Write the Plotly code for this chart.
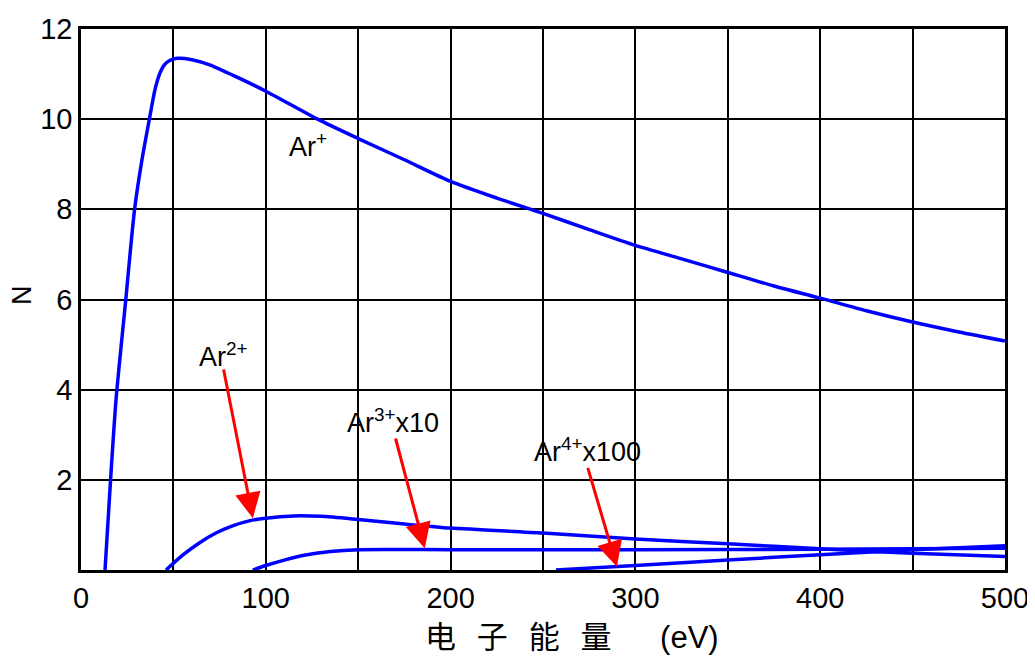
import plotly.graph_objects as go

# ---- data ----
ar1_x = [13, 16, 19, 24, 29, 33, 37, 40, 42.5, 45, 48, 52, 60, 70, 85, 100, 128, 150, 175, 200,
         225, 250, 275, 300, 325, 350, 375, 400, 425, 450, 475, 500]
ar1_y = [0, 2, 3.8, 5.9, 8, 9.1, 10, 10.65, 11.0, 11.2, 11.3, 11.35, 11.32, 11.2, 10.92, 10.62, 10.0, 9.57,
         9.1, 8.62, 8.25, 7.91, 7.55, 7.2, 6.9, 6.6, 6.3, 6.03, 5.75, 5.5, 5.28, 5.08]

ar2_x = [46, 55, 64, 73, 82, 91, 100, 115, 130, 150, 175, 200, 250, 300, 350, 400, 450, 500]
ar2_y = [0, 0.33, 0.6, 0.82, 0.98, 1.09, 1.15, 1.2, 1.19, 1.12, 1.02, 0.93, 0.82, 0.69, 0.58, 0.47, 0.37, 0.3]

ar3_x = [93, 100, 110, 120, 135, 150, 200, 300, 400, 500]
ar3_y = [0, 0.1, 0.22, 0.32, 0.41, 0.45, 0.45, 0.45, 0.46, 0.48]

ar4_x = [257, 300, 350, 400, 450, 500]
ar4_y = [0, 0.1, 0.22, 0.34, 0.45, 0.54]

x_tickvals = [0, 50, 100, 150, 200, 250, 300, 350, 400, 450, 500]
x_ticktext = ["0", "", "100", "", "200", "", "300", "", "400", "", "500"]
y_tickvals = [2, 4, 6, 8, 10, 12]
y_ticktext = ["2", "4", "6", "8", "10", "12"]

# label annotations: (text, text_x, text_y, tail_x, tail_y, head_x, head_y)
labels = [
    ("Ar<sup>2+</sup>", 77, 4.77, 77, 4.48, 93, 1.15),
    ("Ar<sup>3+</sup>x10", 169, 3.3, 170, 2.95, 186, 0.48),
    ("Ar<sup>4+</sup>x100", 274, 2.66, 274, 2.3, 290, 0.07),
]
ar1_label = ("Ar<sup>+</sup>", 123, 9.42)

FONT = "Liberation Sans, Arial, sans-serif"
BLUE = "#0000FF"
RED = "#FF0000"
NB = "\u00a0"

fig = go.Figure()
for xs, ys in [(ar1_x, ar1_y), (ar2_x, ar2_y), (ar3_x, ar3_y), (ar4_x, ar4_y)]:
    fig.add_trace(go.Scatter(x=xs, y=ys, mode="lines",
                             line=dict(color=BLUE, width=3.5, shape="spline", smoothing=0.7),
                             showlegend=False, hoverinfo="skip"))

annotations = []
for text, tx, ty, ax, ay, hx, hy in labels:
    annotations.append(dict(x=hx, y=hy, ax=ax, ay=ay, xref="x", yref="y", axref="x", ayref="y",
                            text="", showarrow=True, arrowhead=2, arrowsize=1.7, arrowwidth=3,
                            arrowcolor=RED, standoff=0, startstandoff=0))
    annotations.append(dict(x=tx, y=ty, xref="x", yref="y", text=text, showarrow=False,
                            font=dict(family=FONT, size=27, color="black")))
annotations.append(dict(x=ar1_label[1], y=ar1_label[2], xref="x", yref="y", text=ar1_label[0],
                        showarrow=False, font=dict(family=FONT, size=27, color="black")))
# axis titles
title_cn = (NB * 3).join(["电", "子", "能", "量"])
annotations.append(dict(x=0.531, y=-0.12, xref="paper", yref="paper",
                        text=title_cn + NB * 7 + "<span style='font-family:Liberation Sans'>(eV)</span>",
                        showarrow=False, yanchor="middle", xanchor="center",
                        font=dict(family="Noto Sans CJK SC", size=31, color="black")))
annotations.append(dict(x=-0.064, y=0.508, xref="paper", yref="paper", text="N", textangle=-90,
                        xanchor="center", yanchor="middle",
                        showarrow=False, font=dict(family=FONT, size=27, color="black")))

fig.update_layout(
    width=1027, height=649,
    margin=dict(l=73, r=30, t=21, b=87),
    paper_bgcolor="white", plot_bgcolor="white",
    annotations=annotations,
    xaxis=dict(range=[0, 500], tickvals=x_tickvals, ticktext=x_ticktext, automargin=False,
               showgrid=True, gridcolor="black", gridwidth=2,
               showline=True, linecolor="black", linewidth=2.5, mirror=True,
               ticks="", zeroline=False,
               tickfont=dict(family=FONT, size=29, color="black")),
    yaxis=dict(range=[0, 12], tickvals=y_tickvals, ticktext=y_ticktext, automargin=False,
               showgrid=True, gridcolor="black", gridwidth=2,
               showline=True, linecolor="black", linewidth=2.5, mirror=True,
               ticks="", zeroline=False,
               tickfont=dict(family=FONT, size=29, color="black")),
)

fig.write_html("out.html")
